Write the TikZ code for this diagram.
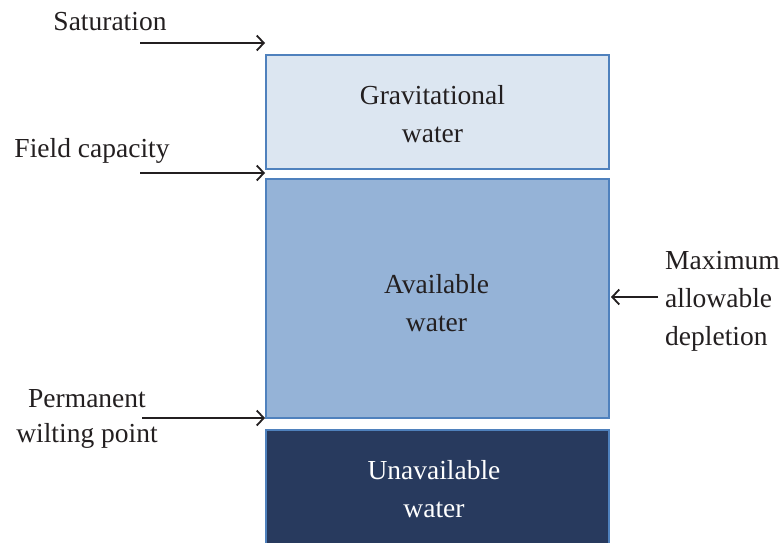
\documentclass[tikz,border=0pt]{standalone}
\usepackage{fontspec}
\setmainfont{Liberation Serif}
\usetikzlibrary{arrows.meta}
\definecolor{txt}{HTML}{231F20}
\definecolor{bord}{HTML}{4F81BD}
\definecolor{gravfill}{HTML}{DCE6F1}
\definecolor{availfill}{HTML}{95B3D7}
\definecolor{unavfill}{HTML}{283A5E}
\begin{document}
\begin{tikzpicture}[x=1pt,y=-1pt,
  every node/.style={font=\fontsize{27.5}{38}\selectfont, text=txt, inner sep=0pt},
  box/.style={draw=bord, line width=2pt, minimum width=343pt, align=center},
  lbl/.style={align=center},
  pointer/.style={draw=txt, line width=1.8pt, -{Straight Barb[length=7pt,width=15pt,line width=1.8pt]}}]
\useasboundingbox (0,0) rectangle (784,543);
\clip (0,0) rectangle (784,543);
\fill[white] (0,0) rectangle (784,543);
% boxes
\node[box, fill=gravfill, minimum height=114pt] (grav) at (437.5,112) {};
\node[align=center] (gravtxt) at (432.5,114) {Gravitational\\water};
\node[box, fill=availfill, minimum height=239pt] (avail) at (437.5,298.5) {};
\node[align=center] (availtxt) at (436.5,303) {Available\\water};
\node[box, fill=unavfill, minimum height=130pt] (unav) at (437.5,495) {};
\node[text=white, align=center] (unavtxt) at (434,489) {Unavailable\\water};
% labels
\node[lbl, anchor=base] (sat) at (110,31) {Saturation};
\node[lbl, anchor=base] (fc) at (92,157) {Field capacity};
\node[lbl, font=\fontsize{27.5}{35}\selectfont] (pwp) at (87,419) {Permanent\\wilting point};
\node[align=left, anchor=west] (mad) at (665,301) {Maximum\\allowable\\depletion};
% arrow coordinates
\coordinate (satS) at (140,43);
\coordinate (satE) at (265,43);
\coordinate (fcS) at (140,173);
\coordinate (fcE) at (265,173);
\coordinate (pwpS) at (142,418);
\coordinate (pwpE) at (265,418);
\coordinate (madS) at (658,297);
\coordinate (madE) at (611,297);
\draw[pointer] (satS) -- (satE);
\draw[pointer] (fcS) -- (fcE);
\draw[pointer] (pwpS) -- (pwpE);
\draw[pointer] (madS) -- (madE);
\end{tikzpicture}
\end{document}
